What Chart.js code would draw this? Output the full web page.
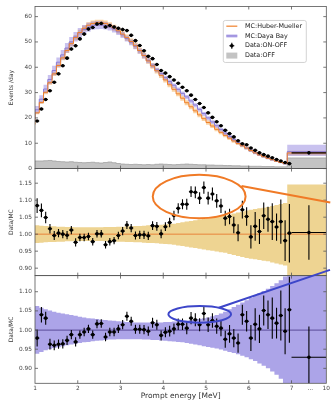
<!DOCTYPE html>
<html>
<head>
<meta charset="utf-8">
<script src="https://cdn.jsdelivr.net/npm/chart.js@4.4.1/dist/chart.umd.min.js"></script>
<style>
  html, body { margin: 0; padding: 0; background: #fff; }
</style>
</head>
<body>
<canvas id="myChart" width="332" height="401"></canvas>
<script>
// 0.1 MeV bins from 1 to 7 MeV, then one wide 7-10 MeV bin squeezed at the right end
const binEdges = [1.0,1.1,1.2,1.3,1.4,1.5,1.6,1.7,1.8,1.9,2.0,2.1,2.2,2.3,2.4,2.5,2.6,2.7,2.8,2.9,
  3.0,3.1,3.2,3.3,3.4,3.5,3.6,3.7,3.8,3.9,4.0,4.1,4.2,4.3,4.4,4.5,4.6,4.7,4.8,4.9,
  5.0,5.1,5.2,5.3,5.4,5.5,5.6,5.7,5.8,5.9,6.0,6.1,6.2,6.3,6.4,6.5,6.6,6.7,6.8,6.9,7.0];
const lastBinEnd = 7.814; // axis position where the "10" label sits
const xTickPos = [1, 2, 3, 4, 5, 6, 7, 7.44, 7.814];
const xTickLabels = ["1", "2", "3", "4", "5", "6", "7", "...", "10"];
const topTicks = [0, 10, 20, 30, 40, 50, 60];
const midTicks = [0.90, 0.95, 1.00, 1.05, 1.10, 1.15];
const botTicks = [0.90, 0.95, 1.00, 1.05, 1.10];
const legendLabels = ["MC:Huber-Mueller", "MC:Daya Bay", "Data:ON-OFF", "Data:OFF"];

// events / day (last entry = 7-10 MeV bin)
const dataOnOff = [18.8,23.5,27.3,30.7,34.1,37.4,40.6,43.6,47.2,48.5,
  51.2,53.1,55.1,55.7,57.1,57.3,55.9,56.5,55.9,55.4,
  54.9,54.5,52.6,50.5,48.6,46.5,44.3,43.4,41.1,38.7,
  37.7,36.3,35.0,33.7,32.1,30.7,29.0,27.3,25.7,24.1,
  22.0,20.2,18.5,16.9,15.1,13.8,12.5,11.0,9.8,9.4,
  8.1,7.2,6.2,5.5,4.9,4.3,3.6,3.0,2.4,1.95,
  6.2];
const dataOff = [2.9,3.0,3.0,3.1,3.2,3.0,2.8,2.7,2.6,2.7,
  2.5,2.4,2.3,2.4,2.5,2.3,2.2,2.4,2.6,2.3,
  2.0,1.8,1.7,1.6,1.7,1.6,1.5,1.6,1.5,1.7,
  1.8,1.7,1.6,1.5,1.6,1.7,1.8,1.7,1.6,1.5,
  1.5,1.4,1.4,1.3,1.3,1.2,1.2,1.1,1.1,1.0,
  1.0,0.9,0.9,0.9,0.8,0.8,0.8,0.7,0.7,0.7,
  4.2];
const mcHuberMueller = [17.4,22.0,26.1,30.1,33.9,37.4,40.7,43.7,46.6,49.3,
  51.7,53.7,55.4,56.6,57.3,57.6,57.6,57.3,56.6,55.6,
  54.4,53.1,51.7,50.2,48.5,46.6,44.6,42.5,40.5,38.6,
  36.8,35.0,33.1,31.3,29.5,27.8,26.0,24.4,22.8,21.2,
  19.7,18.2,16.8,15.5,14.3,13.1,12.0,10.9,9.9,9.0,
  8.1,7.1,6.2,5.4,4.7,4.1,3.5,2.9,2.4,1.95,
  6.17];
const mcDayaBay = [19.2,23.2,27.4,31.4,35.2,38.7,42.0,44.9,47.6,50.0,
  52.0,53.6,54.9,55.8,56.4,56.6,56.6,56.4,55.9,55.1,
  54.0,52.8,51.4,49.9,48.3,46.5,44.6,42.7,40.8,39.0,
  37.5,35.9,34.4,32.9,31.3,29.7,28.3,26.7,25.1,23.4,
  21.7,20.0,18.4,16.9,15.4,14.0,12.7,11.4,10.2,9.1,
  8.1,7.1,6.2,5.4,4.7,4.1,3.5,2.9,2.4,1.9,
  6.67];

// Data / MC
const ratioHM = [1.084,1.070,1.049,1.016,0.996,1.003,1.000,0.997,1.012,0.976,
  0.990,0.990,0.993,0.978,1.001,1.001,0.969,0.978,0.981,0.996,
  1.009,1.027,1.018,0.996,0.998,0.998,0.995,1.025,1.023,1.001,
  1.022,1.034,1.055,1.076,1.088,1.088,1.125,1.123,1.106,1.137,
  1.106,1.118,1.098,1.083,1.047,1.052,1.027,1.004,1.072,1.052,
  0.992,1.023,1.008,1.054,1.044,1.037,1.021,1.037,0.981,1.003,
  1.005];
const ratioDYB = [0.979,1.040,1.031,0.963,0.960,0.963,0.964,0.973,0.988,0.969,
  0.988,0.995,1.003,0.988,1.016,1.017,0.982,0.995,0.995,1.003,
  1.014,1.036,1.023,1.002,1.002,1.001,0.997,1.019,1.014,0.986,
  0.994,0.997,1.003,1.015,1.015,1.005,1.031,1.027,1.014,1.043,
  1.014,1.025,1.010,1.005,0.976,0.990,0.979,0.966,1.040,1.023,
  0.979,1.015,1.003,1.051,1.040,1.031,1.018,1.038,0.997,1.053,
  0.929];
const ratioErr = [0.022,0.020,0.017,0.014,0.013,0.012,0.012,0.012,0.012,0.012,
  0.011,0.011,0.011,0.011,0.011,0.011,0.011,0.011,0.011,0.011,
  0.012,0.012,0.012,0.012,0.012,0.012,0.012,0.013,0.013,0.013,
  0.013,0.014,0.014,0.015,0.015,0.016,0.016,0.017,0.017,0.018,
  0.019,0.019,0.020,0.021,0.022,0.023,0.024,0.025,0.026,0.027,
  0.034,0.042,0.037,0.039,0.037,0.054,0.040,0.065,0.060,0.086,
  0.080];

// relative MC uncertainty (half width of the bands)
const bandHM = [0.027,0.026,0.025,0.024,0.023,0.023,0.022,0.022,0.021,0.021,
  0.020,0.020,0.020,0.020,0.020,0.020,0.020,0.021,0.021,0.021,
  0.022,0.022,0.023,0.023,0.024,0.024,0.025,0.026,0.026,0.027,
  0.028,0.029,0.030,0.031,0.033,0.035,0.037,0.039,0.041,0.043,
  0.045,0.047,0.049,0.051,0.053,0.055,0.058,0.061,0.064,0.067,
  0.070,0.072,0.074,0.076,0.078,0.080,0.083,0.086,0.089,0.092,
  0.146];
const bandDYBUp = [0.069,0.063,0.058,0.054,0.051,0.048,0.045,0.043,0.041,0.039,
  0.037,0.035,0.033,0.031,0.030,0.029,0.027,0.026,0.025,0.024,
  0.023,0.022,0.021,0.021,0.020,0.020,0.020,0.020,0.020,0.020,
  0.020,0.021,0.021,0.022,0.023,0.024,0.025,0.026,0.027,0.029,
  0.031,0.033,0.036,0.039,0.043,0.048,0.054,0.060,0.066,0.072,
  0.078,0.084,0.090,0.096,0.102,0.108,0.115,0.122,0.130,0.140,
  0.410];
const bandDYBDown = [0.066,0.062,0.057,0.053,0.050,0.047,0.045,0.042,0.040,0.038,
  0.036,0.034,0.032,0.031,0.029,0.028,0.027,0.026,0.025,0.025,
  0.024,0.024,0.024,0.024,0.024,0.024,0.025,0.025,0.026,0.026,
  0.027,0.028,0.029,0.030,0.031,0.032,0.034,0.036,0.038,0.040,
  0.042,0.044,0.046,0.048,0.051,0.054,0.057,0.060,0.063,0.067,
  0.071,0.076,0.081,0.087,0.093,0.100,0.108,0.117,0.127,0.138,
  0.250];

// highlight marks: [energy, ratio, half-width MeV, half-height, line from E, from R, to E, to R]
const hmHighlight = [4.84, 1.111, 1.086, 0.064, 5.83, 1.142, 7.907, 1.093];
const dybHighlight = [4.853, 1.041, 0.733, 0.0217, 5.30, 1.058, 7.90, 1.157];

const RANGE = { top: [0, 64], mid: [0.878, 1.193], bot: [0.861, 1.142] };
const FONT = "'DejaVu Sans', sans-serif";
Chart.defaults.font.family = FONT;

const edges = binEdges.concat([lastBinEnd]);
const steps = (vals) => vals.map((v, i) => ({ x: edges[i], y: v })).concat([{ x: lastBinEnd, y: vals[vals.length - 1] }]);
const points = (vals) => vals.map((v, i) => ({ x: (edges[i] + edges[i + 1]) / 2, y: v }));
const clampTo = (r) => (v) => Math.min(Math.max(v, r[0]), r[1]);

const hmHi = mcHuberMueller.map((v, i) => v * (1 + bandHM[i]));
const hmLo = mcHuberMueller.map((v, i) => v * (1 - bandHM[i]));
const dybHi = mcDayaBay.map((v, i) => v * (1 + bandDYBUp[i]));
const dybLo = mcDayaBay.map((v, i) => v * (1 - bandDYBDown[i]));

const stepLine = (vals, axis, color, width, order, fill, bg) => ({
  data: steps(vals), yAxisID: axis, stepped: "after", borderColor: color, borderWidth: width,
  pointRadius: 0, fill: fill || false, backgroundColor: bg || "transparent", order: order,
});
const dots = (vals, axis, errs) => ({
  data: points(vals), yAxisID: axis, showLine: false, pointRadius: 1.8,
  pointBackgroundColor: "#000", pointBorderWidth: 0, errors: errs, order: 0,
});

const datasets = [
  // panel 1
  dots(dataOnOff, "yTop", dataOnOff.map((v, i) => v * ratioErr[i])),
  stepLine(mcHuberMueller, "yTop", "#f0802a", 1, 1),
  stepLine(mcDayaBay, "yTop", "#8a7ad6", 1, 1),
  stepLine(dybHi, "yTop", "transparent", 0, 2, "+1", "rgba(135,120,220,0.45)"),
  stepLine(dybLo, "yTop", "transparent", 0, 2),
  stepLine(hmHi, "yTop", "transparent", 0, 3, "+1", "rgba(245,165,70,0.5)"),
  stepLine(hmLo, "yTop", "transparent", 0, 3),
  stepLine(dataOff, "yTop", "#9a9a9a", 0.7, 4, "origin", "#c3c3c3"),
  // panel 2
  dots(ratioHM, "yMid", ratioErr),
  { data: [{ x: 1, y: 1 }, { x: lastBinEnd, y: 1 }], yAxisID: "yMid", borderColor: "#e8843a", borderWidth: 1, pointRadius: 0, order: 1 },
  stepLine(bandHM.map((b) => 1 + b).map(clampTo(RANGE.mid)), "yMid", "transparent", 0, 2, "+1", "rgb(238,212,146)"),
  stepLine(bandHM.map((b) => 1 - b).map(clampTo(RANGE.mid)), "yMid", "transparent", 0, 2),
  // panel 3
  dots(ratioDYB, "yBot", ratioErr),
  { data: [{ x: 1, y: 1 }, { x: lastBinEnd, y: 1 }], yAxisID: "yBot", borderColor: "#6a5ca8", borderWidth: 1.3, pointRadius: 0, order: 1 },
  stepLine(bandDYBUp.map((b) => 1 + b).map(clampTo(RANGE.bot)), "yBot", "transparent", 0, 2, "+1", "rgb(172,164,232)"),
  stepLine(bandDYBDown.map((b) => 1 - b).map(clampTo(RANGE.bot)), "yBot", "transparent", 0, 2),
];

// error bars drawn just before the points of each panel
const errorBars = {
  id: "errorBars",
  beforeDatasetDraw(chart, args) {
    const ds = chart.data.datasets[args.index];
    if (!ds.errors) return;
    const xs = args.meta.xScale, ys = args.meta.yScale, ctx = chart.ctx;
    ctx.save();
    ctx.beginPath();
    ctx.rect(xs.left, ys.top, xs.right - xs.left, ys.bottom - ys.top);
    ctx.clip();
    ctx.strokeStyle = "#000";
    ctx.lineWidth = 1.1;
    ds.data.forEach((p, i) => {
      const x = xs.getPixelForValue(p.x), y = ys.getPixelForValue(p.y);
      ctx.beginPath();
      ctx.moveTo(x, ys.getPixelForValue(p.y - ds.errors[i]));
      ctx.lineTo(x, ys.getPixelForValue(p.y + ds.errors[i]));
      ctx.moveTo(xs.getPixelForValue(edges[i]), y);
      ctx.lineTo(xs.getPixelForValue(edges[i + 1]), y);
      ctx.stroke();
    });
    ctx.restore();
  },
};

// frames + inward ticks + legend
const frames = {
  id: "frames",
  afterDatasetsDraw(chart) {
    const ctx = chart.ctx, xs = chart.scales.x;
    ctx.save();
    ctx.strokeStyle = "#555";
    ctx.lineWidth = 0.8;
    ["yTop", "yMid", "yBot"].forEach((id) => {
      const ys = chart.scales[id];
      ctx.strokeRect(xs.left, ys.top, xs.right - xs.left, ys.bottom - ys.top);
      ctx.beginPath();
      ys.ticks.forEach((t) => {
        const y = ys.getPixelForValue(t.value);
        ctx.moveTo(xs.left, y); ctx.lineTo(xs.left + 3, y);
        ctx.moveTo(xs.right, y); ctx.lineTo(xs.right - 3, y);
      });
      xTickPos.slice(1, 7).forEach((v) => {
        const x = xs.getPixelForValue(v);
        ctx.moveTo(x, ys.bottom); ctx.lineTo(x, ys.bottom - 3);
        ctx.moveTo(x, ys.top); ctx.lineTo(x, ys.top + 3);
      });
      ctx.stroke();
    });

    // legend box inside the top panel
    const ys = chart.scales.yTop;
    const x0 = xs.right - 103, y0 = ys.top + 14;
    ctx.fillStyle = "rgba(255,255,255,0.92)";
    ctx.strokeStyle = "#c8c8c8";
    ctx.beginPath();
    ctx.roundRect(x0, y0, 83, 42, 2);
    ctx.fill();
    ctx.stroke();
    ctx.font = "6.4px " + FONT;
    ctx.textBaseline = "middle";
    legendLabels.forEach((txt, i) => {
      const y = y0 + 5.7 + i * 9.8;
      const hx = x0 + 3;
      if (i === 0) {
        ctx.strokeStyle = "#f0802a"; ctx.lineWidth = 1.2;
        ctx.beginPath(); ctx.moveTo(hx, y); ctx.lineTo(hx + 11, y); ctx.stroke();
      } else if (i === 1) {
        ctx.strokeStyle = "rgba(135,120,220,0.55)"; ctx.lineWidth = 3;
        ctx.beginPath(); ctx.moveTo(hx, y); ctx.lineTo(hx + 11, y); ctx.stroke();
        ctx.strokeStyle = "#8a7ad6"; ctx.lineWidth = 1;
        ctx.beginPath(); ctx.moveTo(hx, y); ctx.lineTo(hx + 11, y); ctx.stroke();
      } else if (i === 2) {
        ctx.strokeStyle = "#000"; ctx.lineWidth = 1.1;
        ctx.beginPath();
        ctx.moveTo(hx + 3, y); ctx.lineTo(hx + 8, y);
        ctx.moveTo(hx + 5.5, y - 3); ctx.lineTo(hx + 5.5, y + 3);
        ctx.stroke();
        ctx.fillStyle = "#000";
        ctx.beginPath(); ctx.arc(hx + 5.5, y, 1.8, 0, Math.PI * 2); ctx.fill();
      } else {
        ctx.fillStyle = "#c3c3c3";
        ctx.fillRect(hx, y - 3, 11, 6);
      }
      ctx.fillStyle = "#222";
      ctx.fillText(txt, x0 + 21.7, y);
    });
    ctx.restore();
  },
};

// ellipses with the connecting lines
const highlights = {
  id: "highlights",
  afterDraw(chart) {
    const ctx = chart.ctx, xs = chart.scales.x;
    [[hmHighlight, "yMid", "#f07a26"], [dybHighlight, "yBot", "#3d46c9"]].forEach(([h, axis, color]) => {
      const ys = chart.scales[axis];
      const cx = xs.getPixelForValue(h[0]), cy = ys.getPixelForValue(h[1]);
      const rx = Math.abs(xs.getPixelForValue(h[0] + h[2]) - cx);
      const ry = Math.abs(ys.getPixelForValue(h[1] + h[3]) - cy);
      ctx.save();
      ctx.strokeStyle = color;
      ctx.lineWidth = 2;
      ctx.beginPath();
      ctx.ellipse(cx, cy, rx, ry, 0, 0, Math.PI * 2);
      ctx.moveTo(xs.getPixelForValue(h[4]), ys.getPixelForValue(h[5]));
      ctx.lineTo(xs.getPixelForValue(h[6]), ys.getPixelForValue(h[7]));
      ctx.stroke();
      ctx.restore();
    });
  },
};

const yAxis = (title, range, ticks, weight, stackWeight, fmt) => ({
  type: "linear", position: "left", stack: "fig", stackWeight: stackWeight, weight: weight,
  min: range[0], max: range[1],
  grid: { display: false, drawTicks: false }, border: { display: false },
  afterBuildTicks: (s) => { s.ticks = ticks.map((v) => ({ value: v })); },
  afterFit: (s) => { s.width = 35; },
  ticks: { padding: 3, color: "#444", font: { size: 5.8 }, callback: fmt },
  title: { display: true, text: title, color: "#333", font: { size: 6 }, padding: { top: 7.4, bottom: 0 } },
});

new Chart("myChart", {
  type: "line",
  data: { datasets: datasets },
  options: {
    responsive: false,
    animation: false,
    layout: { padding: { top: 6, right: 4, left: 0, bottom: 0 } },
    plugins: { legend: { display: false }, tooltip: { enabled: false } },
    scales: {
      x: {
        type: "linear", position: "bottom", min: 1, max: lastBinEnd,
        grid: { display: false, drawTicks: false }, border: { display: false },
        afterBuildTicks: (s) => { s.ticks = xTickPos.map((v) => ({ value: v })); },
        afterFit: (s) => { s.height = 17.7; },
        ticks: { autoSkip: false, maxRotation: 0, padding: 2, color: "#444", font: { size: 5.8 },
          callback: (v, i) => xTickLabels[i] },
        title: { display: true, text: "Prompt energy [MeV]", color: "#333", font: { size: 7.5 }, padding: { top: 0, bottom: 0 } },
      },
      yBot: yAxis("Data/MC", RANGE.bot, botTicks, 1, 107.6, (v) => v.toFixed(2)),
      yMid: yAxis("Data/MC", RANGE.mid, midTicks, 2, 107, (v) => v.toFixed(2)),
      yTop: yAxis("Events /day", RANGE.top, topTicks, 3, 162, (v) => String(v)),
    },
  },
  plugins: [errorBars, frames, highlights],
});
</script>
</body>
</html>
